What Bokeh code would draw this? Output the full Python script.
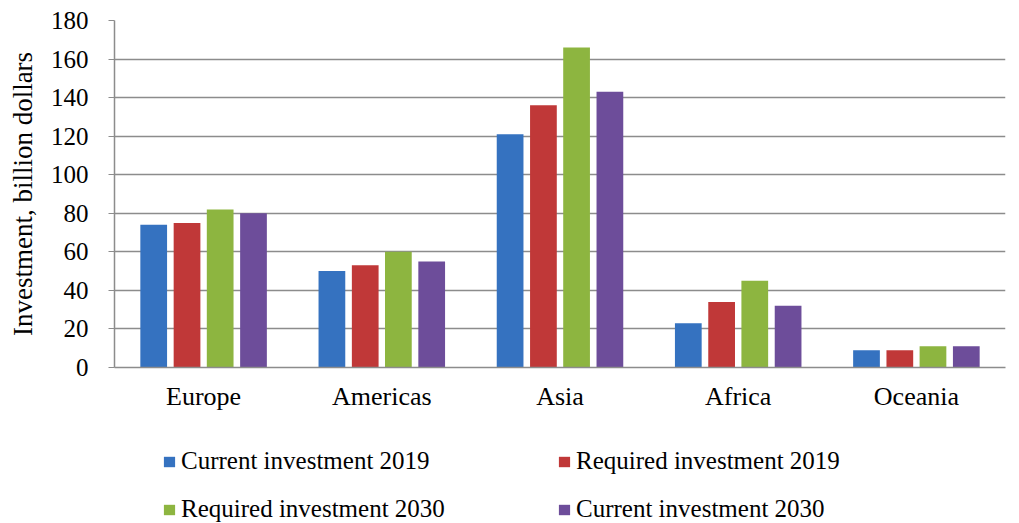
from bokeh.plotting import figure
from bokeh.models import FactorRange, Legend, LegendItem, ColumnDataSource, Range1d
from bokeh.layouts import column
from bokeh.transform import dodge
from bokeh.embed import file_html
from bokeh.resources import INLINE

regions = ["Europe", "Americas", "Asia", "Africa", "Oceania"]
current_2019 = [74, 50, 121, 23, 9]
required_2019 = [75, 53, 136, 34, 9]
required_2030 = [82, 60, 166, 45, 11]
current_2030 = [80, 55, 143, 32, 11]
y_ticks = [0, 20, 40, 60, 80, 100, 120, 140, 160, 180]

series_names = ["Current investment 2019", "Required investment 2019",
                "Required investment 2030", "Current investment 2030"]
series_keys = ["c19", "r19", "r30", "c30"]
colors = ["#3572c0", "#c03838", "#8db540", "#6d4d9a"]
offsets = [-0.28, -0.093, 0.093, 0.28]

src = ColumnDataSource(dict(cat=regions, c19=current_2019, r19=required_2019,
                            r30=required_2030, c30=current_2030))

FONT = "Liberation Serif"

p = figure(x_range=FactorRange(*regions, range_padding=0), y_range=(0, 180),
           width=1011, height=420, output_backend="svg", toolbar_location=None,
           min_border_left=114, min_border_right=6, min_border_top=20,
           min_border_bottom=53)
p.outline_line_color = None
p.background_fill_color = "white"

for key, col, off in zip(series_keys, colors, offsets):
    p.vbar(x=dodge("cat", off, range=p.x_range), top=key, width=0.15,
           source=src, fill_color=col, line_color=None)

p.yaxis.ticker = y_ticks
p.ygrid.ticker = y_ticks
p.ygrid.grid_line_color = "#8c8c8c"
p.ygrid.grid_line_width = 1.5
p.xgrid.grid_line_color = None

for ax in (p.xaxis[0], p.yaxis[0]):
    ax.axis_line_color = "#8c8c8c"
    ax.axis_line_width = 1.5
    ax.major_label_text_font = FONT
    ax.major_label_text_color = "black"
    ax.minor_tick_line_color = None

p.yaxis.major_label_text_font_size = "25px"
p.xaxis.major_label_text_font_size = "26px"
p.yaxis.major_tick_line_color = "#8c8c8c"
p.yaxis.major_tick_out = 6
p.yaxis.major_tick_in = 0
p.yaxis.major_label_standoff = 20
p.xaxis.major_tick_line_color = None
p.xaxis.major_label_standoff = 8
p.yaxis.axis_label = "Investment, billion dollars"
p.yaxis.axis_label_text_font = FONT
p.yaxis.axis_label_text_font_size = "27px"
p.yaxis.axis_label_text_font_style = "normal"
p.yaxis.axis_label_text_color = "black"
p.yaxis.axis_label_standoff = 10

# legend in its own strip below the chart (its bars sit far outside the visible range)
lf = figure(width=1011, height=103, output_backend="svg", toolbar_location=None,
            x_range=FactorRange(*regions), y_range=Range1d(5000, 5001),
            x_axis_type=None, y_axis_type=None, min_border=0)
lf.outline_line_color = None
lf.xgrid.grid_line_color = None
lf.ygrid.grid_line_color = None
swatches = [lf.vbar(x=dodge("cat", off, range=lf.x_range), top=key, width=0.15,
                    source=src, fill_color=c, line_color=None)
            for key, c, off in zip(series_keys, colors, offsets)]

# column-major fill: order so rows read like the reference
order = [0, 2, 1, 3]
items = [LegendItem(label=series_names[i], renderers=[swatches[i]]) for i in order]
legend = Legend(items=items, ncols=2, location=(48, 0),
                label_text_font=FONT, label_text_font_size="25px",
                label_text_color="black",
                glyph_width=14, glyph_height=13, label_standoff=5,
                label_width=356, label_height=25, spacing=20,
                border_line_color=None, background_fill_alpha=0,
                padding=0, margin=0)
lf.add_layout(legend, "center")

layout = column(p, lf, spacing=0)
open("out.html", "w").write(file_html(layout, INLINE))
